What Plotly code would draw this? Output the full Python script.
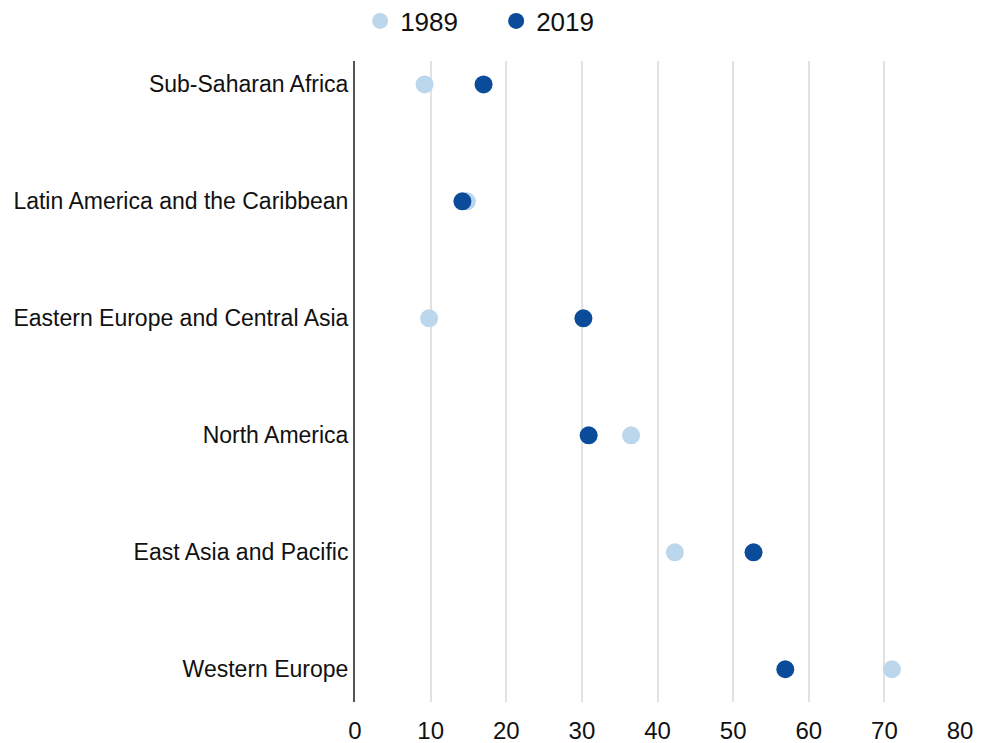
import plotly.graph_objects as go

regions = ["Sub-Saharan Africa", "Latin America and the Caribbean",
           "Eastern Europe and Central Asia", "North America",
           "East Asia and Pacific", "Western Europe"]
values_1989 = [9.2, 14.8, 9.8, 36.5, 42.3, 71.0]
values_2019 = [17.0, 14.2, 30.2, 30.9, 52.7, 56.9]
x_ticks = [0, 10, 20, 30, 40, 50, 60, 70, 80]

light = "#bcd6ec"
dark = "#0a4c99"

fig = go.Figure()
fig.add_trace(go.Scatter(x=values_1989, y=regions, mode="markers", name="1989",
                         marker=dict(color=light, size=18)))
fig.add_trace(go.Scatter(x=values_2019, y=regions, mode="markers", name="2019",
                         marker=dict(color=dark, size=18)))

fig.update_layout(
    width=984, height=743,
    margin=dict(l=355, r=24, t=61, b=41, autoexpand=False),
    paper_bgcolor="white", plot_bgcolor="white",
    font=dict(family="Liberation Sans, Arial, sans-serif", color="#111"),
    legend=dict(orientation="h", xref="container", yref="container",
                x=0.366, xanchor="left", y=1 - 21 / 743, yanchor="middle",
                font=dict(size=26), itemsizing="trace", itemwidth=30,
                entrywidth=91, bgcolor="rgba(0,0,0,0)"),
    showlegend=True,
)
fig.update_xaxes(range=[0, 80], tickvals=x_ticks, showgrid=True, gridcolor="#e2e2e2",
                 gridwidth=2, zeroline=False, showline=False, ticks="",
                 automargin=False, ticklabelstandoff=12,
                 tickfont=dict(size=24, color="#111"))
fig.update_yaxes(type="category", categoryorder="array", categoryarray=regions,
                 range=[5.28, -0.2], showgrid=False, zeroline=False,
                 showline=True, linecolor="#555", linewidth=2, ticks="",
                 automargin=False, ticklabelstandoff=0,
                 tickfont=dict(size=23, color="#111"))

fig.write_html("out.html", config={"displayModeBar": False},
               post_script="document.body.style.margin='0';")
